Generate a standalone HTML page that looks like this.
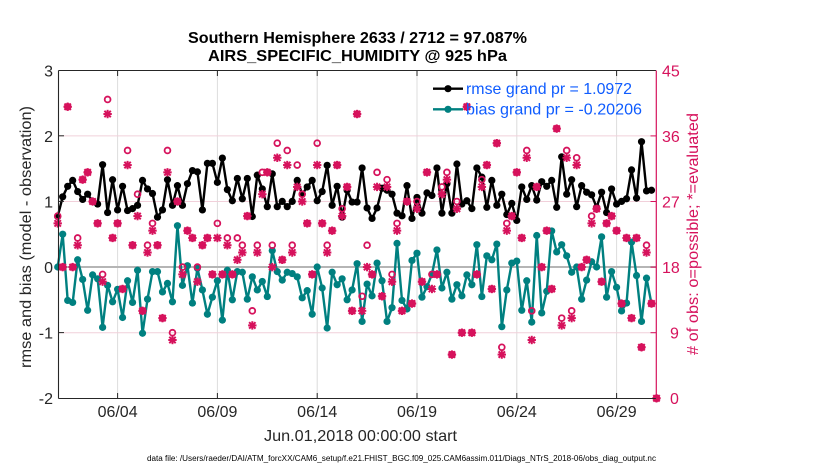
<!DOCTYPE html>
<html>
<head>
<meta charset="utf-8">
<style>
  html, body { margin: 0; padding: 0; background: #ffffff; }
  svg { display: block; font-family: "Liberation Sans", Arial, sans-serif; }
</style>
</head>
<body>
<svg width="830" height="470" viewBox="0 0 830 470" xmlns="http://www.w3.org/2000/svg">
  <defs>
    <marker id="mdotk" markerUnits="userSpaceOnUse" markerWidth="2" markerHeight="2" refX="0" refY="0" overflow="visible" style="overflow:visible">
      <ellipse cx="0" cy="0" rx="0.7214" ry="0.0549" fill="#000000"/>
    </marker>
    <marker id="mdott" markerUnits="userSpaceOnUse" markerWidth="2" markerHeight="2" refX="0" refY="0" overflow="visible" style="overflow:visible">
      <ellipse cx="0" cy="0" rx="0.7214" ry="0.0549" fill="#008080"/>
    </marker>
    <marker id="mring" markerUnits="userSpaceOnUse" markerWidth="2" markerHeight="2" refX="0" refY="0" overflow="visible" style="overflow:visible">
      <path fill="#d6125c" fill-rule="evenodd" d="M-0.7615,0 A0.7615,0.5213 0 1,0 0.7615,0 A0.7615,0.5213 0 1,0 -0.7615,0 Z M-0.4008,0 A0.4008,0.2744 0 1,0 0.4008,0 A0.4008,0.2744 0 1,0 -0.4008,0 Z"/>
    </marker>
    <marker id="mstar" markerUnits="userSpaceOnUse" markerWidth="2" markerHeight="2" refX="0" refY="0" overflow="visible" style="overflow:visible">
      <g fill="#d6125c">
        <polygon points="-0.8417,-0.1372 0.8417,-0.1372 0.8417,0.1372 -0.8417,0.1372"/>
        <polygon points="-0.2004,-0.5762 0.2004,-0.5762 0.2004,0.5762 -0.2004,0.5762"/>
        <polygon points="-0.4996,-0.5360 0.7830,0.3420 0.4996,0.5360 -0.7830,-0.3420"/>
        <polygon points="0.4996,-0.5360 -0.7830,0.3420 -0.4996,0.5360 0.7830,-0.3420"/>
      </g>
    </marker>
  </defs>

  <rect x="0" y="0" width="830" height="470" fill="#ffffff"/>

  <!-- vertical grid lines -->
  <g stroke="#dcdcdc" stroke-width="1">
    <line x1="117.6" y1="70.5" x2="117.6" y2="398.5"/>
    <line x1="217.4" y1="70.5" x2="217.4" y2="398.5"/>
    <line x1="317.2" y1="70.5" x2="317.2" y2="398.5"/>
    <line x1="417.0" y1="70.5" x2="417.0" y2="398.5"/>
    <line x1="516.8" y1="70.5" x2="516.8" y2="398.5"/>
    <line x1="616.6" y1="70.5" x2="616.6" y2="398.5"/>
  </g>
  <!-- horizontal (right axis) grid lines -->
  <g stroke="#f1d0da" stroke-width="1">
    <line x1="58.5" y1="135.9" x2="656" y2="135.9"/>
    <line x1="58.5" y1="201.5" x2="656" y2="201.5"/>
    <line x1="58.5" y1="332.7" x2="656" y2="332.7"/>
  </g>
  <!-- zero line -->
  <line x1="58.5" y1="267" x2="656" y2="267" stroke="#b5b5b5" stroke-width="2"/>

  <!-- rmse & bias lines -->
  <g transform="translate(57.7,267) scale(4.99,-65.6)">
    <polyline fill="none" stroke="#000000" stroke-width="2.4" stroke-linejoin="round" vector-effect="non-scaling-stroke"
      points="0,0.77 1,1.07 2,1.23 3,1.32 4,1.15 5,1.03 6,1.11 7,1.00 8,0.96 9,1.56 10,0.83 11,1.33 12,0.87 13,1.23 14,0.86 15,0.89 16,0.94 17,1.32 18,1.19 19,1.12 20,0.76 21,0.87 22,1.33 23,0.94 24,1.24 25,0.94 26,1.27 27,1.47 28,1.45 29,0.87 30,1.58 31,1.58 32,1.29 33,1.66 34,1.18 35,1.01 36,1.35 37,1.04 38,1.35 39,0.77 40,1.40 41,1.19 42,0.92 43,1.42 44,0.92 45,1.00 46,0.92 47,1.00 48,1.32 49,1.11 50,1.22 51,1.32 52,1.01 53,1.15 54,1.55 55,0.94 56,1.23 57,0.76 58,1.17 59,0.99 60,0.99 61,1.51 62,0.90 63,0.74 64,0.90 65,1.20 66,1.17 67,1.11 68,0.82 69,0.78 70,1.24 71,0.74 72,1.06 73,0.82 74,1.13 75,1.09 76,1.51 77,0.82 78,1.27 79,0.82 80,1.57 81,0.96 82,1.01 83,0.89 84,1.51 85,1.37 86,0.91 87,1.32 88,0.94 89,1.11 90,0.80 91,0.97 92,0.71 93,1.22 94,1.03 95,1.24 96,1.02 97,1.30 98,1.23 99,1.32 100,0.91 101,1.68 102,1.11 103,1.33 104,0.92 105,1.24 106,1.14 107,1.10 108,0.91 109,1.14 110,0.83 111,1.19 112,0.96 113,1.00 114,1.04 115,1.48 116,1.05 117,1.91 118,1.16 119,1.17"/>
    <polyline fill="none" stroke="none" marker-start="url(#mdotk)" marker-mid="url(#mdotk)" marker-end="url(#mdotk)"
      points="0,0.77 1,1.07 2,1.23 3,1.32 4,1.15 5,1.03 6,1.11 7,1.00 8,0.96 9,1.56 10,0.83 11,1.33 12,0.87 13,1.23 14,0.86 15,0.89 16,0.94 17,1.32 18,1.19 19,1.12 20,0.76 21,0.87 22,1.33 23,0.94 24,1.24 25,0.94 26,1.27 27,1.47 28,1.45 29,0.87 30,1.58 31,1.58 32,1.29 33,1.66 34,1.18 35,1.01 36,1.35 37,1.04 38,1.35 39,0.77 40,1.40 41,1.19 42,0.92 43,1.42 44,0.92 45,1.00 46,0.92 47,1.00 48,1.32 49,1.11 50,1.22 51,1.32 52,1.01 53,1.15 54,1.55 55,0.94 56,1.23 57,0.76 58,1.17 59,0.99 60,0.99 61,1.51 62,0.90 63,0.74 64,0.90 65,1.20 66,1.17 67,1.11 68,0.82 69,0.78 70,1.24 71,0.74 72,1.06 73,0.82 74,1.13 75,1.09 76,1.51 77,0.82 78,1.27 79,0.82 80,1.57 81,0.96 82,1.01 83,0.89 84,1.51 85,1.37 86,0.91 87,1.32 88,0.94 89,1.11 90,0.80 91,0.97 92,0.71 93,1.22 94,1.03 95,1.24 96,1.02 97,1.30 98,1.23 99,1.32 100,0.91 101,1.68 102,1.11 103,1.33 104,0.92 105,1.24 106,1.14 107,1.10 108,0.91 109,1.14 110,0.83 111,1.19 112,0.96 113,1.00 114,1.04 115,1.48 116,1.05 117,1.91 118,1.16 119,1.17"/>

    <polyline fill="none" stroke="#008080" stroke-width="2.4" stroke-linejoin="round" vector-effect="non-scaling-stroke"
      points="0,0.00 1,0.50 2,-0.51 3,-0.54 4,0.11 5,-0.19 6,-0.66 7,-0.12 8,-0.18 9,-0.92 10,-0.28 11,-0.53 12,-0.34 13,-0.77 14,-0.21 15,-0.54 16,-0.05 17,-1.01 18,-0.49 19,-0.07 20,-0.07 21,-0.38 22,-0.25 23,-0.53 24,0.63 25,-0.28 26,0.02 27,-0.55 28,-0.02 29,-0.35 30,-0.72 31,-0.46 32,-0.21 33,-0.81 34,-0.05 35,-0.50 36,-0.07 37,-0.08 38,-0.49 39,-0.15 40,-0.35 41,-0.22 42,-0.45 43,0.25 44,-0.07 45,-0.20 46,-0.08 47,-0.10 48,-0.15 49,-0.47 50,-0.36 51,-0.72 52,0.00 53,-0.32 54,-0.93 55,-0.08 56,-0.27 57,-0.18 58,-0.50 59,-0.35 60,0.05 61,-0.83 62,-0.26 63,-0.44 64,0.06 65,-0.21 66,-0.83 67,-0.62 68,0.36 69,-0.51 70,-0.64 71,0.10 72,0.21 73,-0.46 74,-0.30 75,-0.11 76,0.26 77,-0.32 78,-0.08 79,-0.49 80,-0.27 81,-0.44 82,-0.12 83,-0.27 84,0.34 85,-0.45 86,0.17 87,0.11 88,0.35 89,-0.91 90,-0.35 91,0.06 92,0.09 93,-0.66 94,-0.21 95,-0.84 96,0.48 97,-0.70 98,-0.37 99,0.55 100,0.23 101,0.34 102,0.17 103,-0.08 104,0.00 105,-0.49 106,-0.20 107,0.08 108,0.00 109,0.46 110,-0.46 111,-0.07 112,-0.31 113,-0.67 114,-0.55 115,0.38 116,-0.13 117,-0.83 118,-0.17 119,-0.56"/>
    <polyline fill="none" stroke="none" marker-start="url(#mdott)" marker-mid="url(#mdott)" marker-end="url(#mdott)"
      points="0,0.00 1,0.50 2,-0.51 3,-0.54 4,0.11 5,-0.19 6,-0.66 7,-0.12 8,-0.18 9,-0.92 10,-0.28 11,-0.53 12,-0.34 13,-0.77 14,-0.21 15,-0.54 16,-0.05 17,-1.01 18,-0.49 19,-0.07 20,-0.07 21,-0.38 22,-0.25 23,-0.53 24,0.63 25,-0.28 26,0.02 27,-0.55 28,-0.02 29,-0.35 30,-0.72 31,-0.46 32,-0.21 33,-0.81 34,-0.05 35,-0.50 36,-0.07 37,-0.08 38,-0.49 39,-0.15 40,-0.35 41,-0.22 42,-0.45 43,0.25 44,-0.07 45,-0.20 46,-0.08 47,-0.10 48,-0.15 49,-0.47 50,-0.36 51,-0.72 52,0.00 53,-0.32 54,-0.93 55,-0.08 56,-0.27 57,-0.18 58,-0.50 59,-0.35 60,0.05 61,-0.83 62,-0.26 63,-0.44 64,0.06 65,-0.21 66,-0.83 67,-0.62 68,0.36 69,-0.51 70,-0.64 71,0.10 72,0.21 73,-0.46 74,-0.30 75,-0.11 76,0.26 77,-0.32 78,-0.08 79,-0.49 80,-0.27 81,-0.44 82,-0.12 83,-0.27 84,0.34 85,-0.45 86,0.17 87,0.11 88,0.35 89,-0.91 90,-0.35 91,0.06 92,0.09 93,-0.66 94,-0.21 95,-0.84 96,0.48 97,-0.70 98,-0.37 99,0.55 100,0.23 101,0.34 102,0.17 103,-0.08 104,0.00 105,-0.49 106,-0.20 107,0.08 108,0.00 109,0.46 110,-0.46 111,-0.07 112,-0.31 113,-0.67 114,-0.55 115,0.38 116,-0.13 117,-0.83 118,-0.17 119,-0.56"/>
  </g>

  <!-- obs counts (right axis) -->
  <g transform="translate(57.7,398.3) scale(4.99,-7.289)">
    <polyline fill="none" stroke="none" marker-start="url(#mring)" marker-mid="url(#mring)" marker-end="url(#mring)"
      points="0,25 1,18 2,40 3,18 4,22 5,30 6,31 7,27 8,24 9,17 10,41 11,22 12,24 13,15 14,34 15,21 16,28 17,12 18,21 19,24 20,21 21,11 22,34 23,9 24,27 25,18 26,23 27,22 28,18 29,21 30,22 31,17 32,24 33,17 34,22 35,17 36,22 37,21 38,25 39,12 40,21 41,31 42,31 43,21 44,35 45,19 46,34 47,21 48,32 49,28 50,24 51,17 52,35 53,24 54,21 55,23 56,32 57,26 58,29 59,12 60,39 61,14 62,21 63,17 64,31 65,14 66,30 67,17 68,24 69,12 70,27 71,13 72,27 73,16 74,31 75,17 76,17 77,29 78,31 79,6 80,27 81,9 82,40 83,9 84,17 85,30 86,32 87,15 88,35 89,7 90,24 91,25 92,31 93,22 94,34 95,12 96,29 97,18 98,23 99,15 100,37 101,11 102,34 103,12 104,33 105,18 106,19 107,25 108,26 109,16 110,24 111,25 112,23 113,13 114,22 115,11 116,22 117,7 118,21 119,13 120,0"/>
    <polyline fill="none" stroke="none" marker-start="url(#mstar)" marker-mid="url(#mstar)" marker-end="url(#mstar)"
      points="0,24 1,18 2,40 3,18 4,21 5,30 6,31 7,27 8,24 9,16 10,39 11,22 12,24 13,15 14,32 15,21 16,25 17,12 18,20 19,23 20,21 21,11 22,31 23,8 24,27 25,17 26,23 27,22 28,16 29,21 30,22 31,17 32,22 33,17 34,21 35,17 36,19 37,20 38,25 39,10 40,20 41,28 42,31 43,18 44,33 45,19 46,32 47,20 48,29 49,27 50,24 51,17 52,32 53,24 54,20 55,23 56,32 57,25 58,29 59,12 60,39 61,12 62,18 63,17 64,29 65,14 66,29 67,16 68,23 69,12 70,27 71,13 72,26 73,16 74,31 75,15 76,17 77,28 78,30 79,6 80,26 81,9 82,40 83,9 84,17 85,29 86,32 87,15 88,35 89,6 90,23 91,25 92,31 93,22 94,33 95,8 96,29 97,18 98,23 99,15 100,37 101,10 102,33 103,11 104,32 105,18 106,19 107,24 108,26 109,16 110,24 111,25 112,23 113,13 114,22 115,11 116,22 117,7 118,20 119,13 120,0"/>
  </g>

  <!-- axes frame -->
  <g stroke="#262626" stroke-width="1.1" fill="none">
    <line x1="58.5" y1="70.5" x2="656" y2="70.5"/>
    <line x1="58.5" y1="70.5" x2="58.5" y2="398.5"/>
    <line x1="58.5" y1="398.5" x2="656" y2="398.5"/>
  </g>
  <line x1="656.3" y1="70.5" x2="656.3" y2="398.5" stroke="#d6125c" stroke-width="1.2"/>

  <!-- ticks -->
  <g stroke="#262626" stroke-width="1">
    <line x1="117.6" y1="398.5" x2="117.6" y2="393"/>
    <line x1="217.4" y1="398.5" x2="217.4" y2="393"/>
    <line x1="317.2" y1="398.5" x2="317.2" y2="393"/>
    <line x1="417.0" y1="398.5" x2="417.0" y2="393"/>
    <line x1="516.8" y1="398.5" x2="516.8" y2="393"/>
    <line x1="616.6" y1="398.5" x2="616.6" y2="393"/>
    <line x1="117.6" y1="70.5" x2="117.6" y2="76"/>
    <line x1="217.4" y1="70.5" x2="217.4" y2="76"/>
    <line x1="317.2" y1="70.5" x2="317.2" y2="76"/>
    <line x1="417.0" y1="70.5" x2="417.0" y2="76"/>
    <line x1="516.8" y1="70.5" x2="516.8" y2="76"/>
    <line x1="616.6" y1="70.5" x2="616.6" y2="76"/>
    <line x1="58.5" y1="135.8" x2="64" y2="135.8"/>
    <line x1="58.5" y1="201.4" x2="64" y2="201.4"/>
    <line x1="58.5" y1="332.6" x2="64" y2="332.6"/>
  </g>
  <g stroke="#d6125c" stroke-width="1">
    <line x1="656" y1="135.9" x2="650.5" y2="135.9"/>
    <line x1="656" y1="201.5" x2="650.5" y2="201.5"/>
    <line x1="656" y1="267.1" x2="650.5" y2="267.1"/>
    <line x1="656" y1="332.7" x2="650.5" y2="332.7"/>
  </g>

  <!-- left tick labels -->
  <g font-size="16" fill="#262626" text-anchor="end">
    <text x="53" y="76.5">3</text>
    <text x="53" y="142">2</text>
    <text x="53" y="207.5">1</text>
    <text x="53" y="273">0</text>
    <text x="53" y="338.5">-1</text>
    <text x="53" y="404">-2</text>
  </g>
  <!-- right tick labels -->
  <g font-size="16" fill="#d6125c" text-anchor="start">
    <text x="662" y="76.5">45</text>
    <text x="662" y="142">36</text>
    <text x="662" y="207.5">27</text>
    <text x="662" y="273">18</text>
    <text x="670" y="338.5">9</text>
    <text x="670" y="404">0</text>
  </g>
  <!-- date tick labels -->
  <g font-size="16" fill="#262626" text-anchor="middle">
    <text x="117.6" y="417">06/04</text>
    <text x="217.4" y="417">06/09</text>
    <text x="317.2" y="417">06/14</text>
    <text x="417.0" y="417">06/19</text>
    <text x="516.8" y="417">06/24</text>
    <text x="616.6" y="417">06/29</text>
  </g>

  <!-- x axis label -->
  <text x="360.5" y="441" font-size="16" fill="#262626" text-anchor="middle" textLength="193" lengthAdjust="spacingAndGlyphs">Jun.01,2018 00:00:00 start</text>

  <!-- y axis labels -->
  <text transform="translate(31,237) rotate(-90)" font-size="16" fill="#262626" text-anchor="middle" textLength="262" lengthAdjust="spacingAndGlyphs">rmse and bias (model - observation)</text>
  <text transform="translate(698,234) rotate(-90)" font-size="16" fill="#d6125c" text-anchor="middle" textLength="242" lengthAdjust="spacingAndGlyphs"># of obs: o=possible; *=evaluated</text>

  <!-- title -->
  <text x="357.5" y="43" font-size="16" font-weight="bold" fill="#000" text-anchor="middle" textLength="339" lengthAdjust="spacingAndGlyphs">Southern Hemisphere 2633 / 2712 = 97.087%</text>
  <text x="357.5" y="61" font-size="16" font-weight="bold" fill="#000" text-anchor="middle" textLength="299" lengthAdjust="spacingAndGlyphs">AIRS_SPECIFIC_HUMIDITY @ 925 hPa</text>

  <!-- legend -->
  <line x1="433" y1="88.7" x2="463" y2="88.7" stroke="#000" stroke-width="2.4"/>
  <circle cx="448" cy="88.7" r="3.6" fill="#000"/>
  <line x1="433" y1="109.3" x2="463" y2="109.3" stroke="#008080" stroke-width="2.4"/>
  <circle cx="448" cy="109.3" r="3.6" fill="#008080"/>
  <text x="466" y="94" font-size="16" fill="#0f5cff" textLength="166" lengthAdjust="spacingAndGlyphs">rmse grand pr = 1.0972</text>
  <text x="466" y="114.5" font-size="16" fill="#0f5cff" textLength="176" lengthAdjust="spacingAndGlyphs">bias grand pr = -0.20206</text>

  <!-- footer -->
  <text x="147" y="461" font-size="8" fill="#000" textLength="509" lengthAdjust="spacingAndGlyphs">data file: /Users/raeder/DAI/ATM_forcXX/CAM6_setup/f.e21.FHIST_BGC.f09_025.CAM6assim.011/Diags_NTrS_2018-06/obs_diag_output.nc</text>
</svg>
</body>
</html>
